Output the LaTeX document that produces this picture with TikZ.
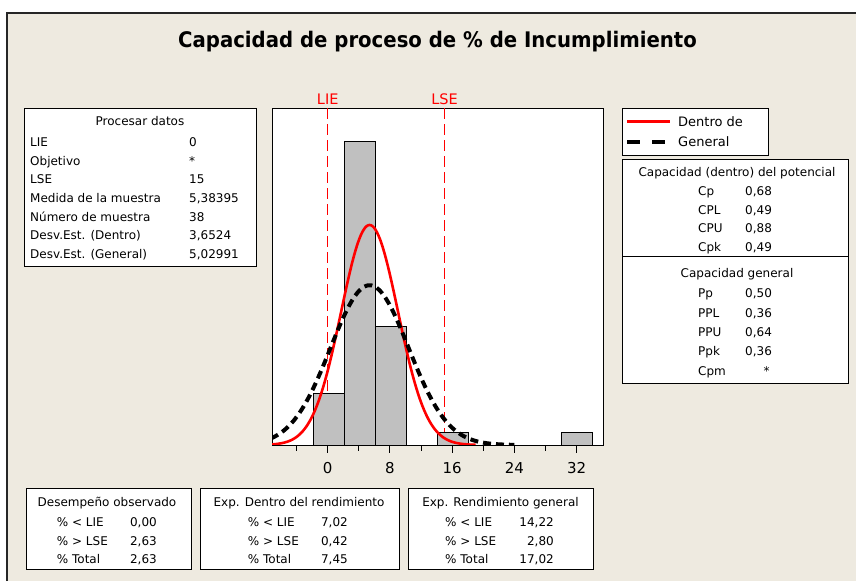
\documentclass[tikz,border=0pt]{standalone}
\usepackage{fontspec}
\setmainfont{DejaVu Sans}
\definecolor{bgbeige}{HTML}{EEEAE0}
\definecolor{bargray}{HTML}{C0C0C0}
\begin{document}
\begin{tikzpicture}[x=1pt,y=-1pt,
  txt/.style={inner sep=0pt, anchor=base west, font=\fontsize{12}{14}\selectfont},
  txtc/.style={inner sep=0pt, anchor=base, font=\fontsize{12}{14}\selectfont},
  txtr/.style={inner sep=0pt, anchor=base east, font=\fontsize{12}{14}\selectfont},
  legtxt/.style={inner sep=0pt, anchor=base west, font=\fontsize{13}{15}\selectfont},
  axtxt/.style={inner sep=0pt, anchor=base, font=\fontsize{15}{17}\selectfont},
  spectxt/.style={inner sep=0pt, anchor=base, text=red, font=\fontsize{14.5}{17}\selectfont},
  boxline/.style={draw=black, line width=1pt},
  bar/.style={draw=black, line width=0.9pt, fill=bargray},
  specline/.style={red, line width=1.1pt, dash pattern=on 11pt off 5pt},
  withincurve/.style={red, line width=2.6pt},
  overallcurve/.style={black, line width=4pt, dash pattern=on 8pt off 5pt},
]
\useasboundingbox (0,0) rectangle (856,581);
\fill[white] (0,0) rectangle (856,581);
\fill[bgbeige] (7,13) rectangle (856,581);
\draw[line width=1.6pt, black!85] (7,581) -- (7,13) -- (856,13);

% title
\node[inner sep=0pt, anchor=base, font=\bfseries\fontsize{19.5}{22}\selectfont] (title) at (437.5,47) {\scalebox{1.01}[1.1]{Capacidad de proceso de \% de Incumplimiento}};

% plot area
\draw[boxline, fill=white] (272,108) rectangle (603,445);
\draw[specline] (327.7,108) -- (327.7,445);
\draw[specline] (444.5,108) -- (444.5,445);
\node[spectxt] (lie) at (327.7,104.3) {LIE};
\node[spectxt] (lse) at (444.5,104.3) {LSE};

% bars
\draw[bar] (313.3,445) rectangle (344.4,393.3);
\draw[bar] (344.4,445) rectangle (375.6,141.7);
\draw[bar] (375.6,445) rectangle (406.5,326);
\draw[bar] (437.5,445) rectangle (468.3,432.3);
\draw[bar] (561,445) rectangle (592.3,432.3);

% curves
\begin{scope}
\clip (272,108) rectangle (603,445);
\draw[withincurve] plot[domain=-7.3:19, samples=140, smooth]
  ({327.7+7.78*\x},{445-2014/(3.6524*2.5066)*exp(-((\x-5.38395)*(\x-5.38395))/(2*3.6524*3.6524))});
\draw[overallcurve] plot[domain=-7.3:24, samples=160, smooth]
  ({327.7+7.78*\x},{445-2014/(5.02991*2.5066)*exp(-((\x-5.38395)*(\x-5.38395))/(2*5.02991*5.02991))});
\end{scope}
\draw[line width=1pt] (272,445) -- (603,445);

% axis ticks
\foreach \v in {-4,4,12,20,28}{
  \draw[line width=1pt] ({327.7+7.78*\v},445) -- ({327.7+7.78*\v},450.5);
}
\foreach \v in {0,8,16,24,32}{
  \draw[line width=1pt] ({327.7+7.78*\v},445) -- ({327.7+7.78*\v},453);
  \node[axtxt] (ax\v) at ({327.7+7.78*\v},473.3) {\v};
}

% left table
\draw[boxline, fill=white] (24,108) rectangle (256,266);
\node[txtc] (pd) at (140,125.9) {Procesar datos};
\node[txt] (l1) at (30,146.1) {LIE};             \node[txt] (v1) at (189,146.1) {0};
\node[txt] (l2) at (30,165) {Objetivo};          \node[txt] (v2) at (189,165) {*};
\node[txt] (l3) at (30,183.7) {LSE};             \node[txt] (v3) at (189,183.7) {15};
\node[txt] (l4) at (30,202.4) {Medida de la muestra}; \node[txt] (v4) at (189,202.4) {5,38395};
\node[txt] (l5) at (30,221.1) {Número de muestra};    \node[txt] (v5) at (189,221.1) {38};
\node[txt] (l6) at (30,239.8) {Desv.Est. (Dentro)};   \node[txt] (v6) at (189,239.8) {3,6524};
\node[txt] (l7) at (30,258.5) {Desv.Est. (General)};  \node[txt] (v7) at (189,258.5) {5,02991};

% legend
\draw[boxline, fill=white] (622,108) rectangle (768,155);
\draw[red, line width=2.2pt] (627,121.5) -- (670,121.5);
\node[legtxt] (leg1) at (678,126.2) {Dentro de};
\draw[black, line width=3.5pt, dash pattern=on 13pt off 12pt] (627,142) -- (667,142);
\node[legtxt] (leg2) at (678,146.7) {General};

% capability table
\draw[boxline, fill=white] (622,159) rectangle (848,383);
\draw[boxline] (622,256.5) -- (848,256.5);
\node[txtc] (cph) at (737,176.4) {Capacidad (dentro) del potencial};
\node[txt] (c1) at (698,195.1) {Cp};  \node[txt] (cv1) at (745,195.1) {0,68};
\node[txt] (c2) at (698,214.1) {CPL}; \node[txt] (cv2) at (745,214.1) {0,49};
\node[txt] (c3) at (698,232.9) {CPU}; \node[txt] (cv3) at (745,232.9) {0,88};
\node[txt] (c4) at (698,251.6) {Cpk}; \node[txt] (cv4) at (745,251.6) {0,49};
\node[txtc] (pph) at (737,277.1) {Capacidad general};
\node[txt] (p1) at (698,297.6) {Pp};  \node[txt] (pv1) at (745,297.6) {0,50};
\node[txt] (p2) at (698,317.4) {PPL}; \node[txt] (pv2) at (745,317.4) {0,36};
\node[txt] (p3) at (698,336.4) {PPU}; \node[txt] (pv3) at (745,336.4) {0,64};
\node[txt] (p4) at (698,355.1) {Ppk}; \node[txt] (pv4) at (745,355.1) {0,36};
\node[txt] (p5) at (698,375.1) {Cpm}; \node[txtc] (pv5) at (766.5,375.1) {*};

% bottom boxes
\draw[boxline, fill=white] (26,488) rectangle (191,569);
\node[txtc] (b1h) at (107,506.1) {Desempeño observado};
\node[txt] (b1l1) at (56.7,526.4) {\%  <  LIE};   \node[txtr] (b1v1) at (157,526.4) {0,00};
\node[txt] (b1l2) at (56.7,545.4) {\%  >  LSE};   \node[txtr] (b1v2) at (157,545.4) {2,63};
\node[txt] (b1l3) at (56.7,563.8) {\%  Total};    \node[txtr] (b1v3) at (157,563.8) {2,63};

\draw[boxline, fill=white] (200,488) rectangle (399,569);
\node[txtc] (b2h) at (299,506.1) {Exp. Dentro del rendimiento};
\node[txt] (b2l1) at (247.7,526.4) {\%  <  LIE};  \node[txtr] (b2v1) at (348,526.4) {7,02};
\node[txt] (b2l2) at (247.7,545.4) {\%  >  LSE};  \node[txtr] (b2v2) at (348,545.4) {0,42};
\node[txt] (b2l3) at (247.7,563.8) {\%  Total};   \node[txtr] (b2v3) at (348,563.8) {7,45};

\draw[boxline, fill=white] (408,488) rectangle (593,569);
\node[txtc] (b3h) at (500.5,506.1) {Exp. Rendimiento general};
\node[txt] (b3l1) at (445,526.4) {\%  <  LIE};  \node[txtr] (b3v1) at (554,526.4) {14,22};
\node[txt] (b3l2) at (445,545.4) {\%  >  LSE};  \node[txtr] (b3v2) at (554,545.4) {2,80};
\node[txt] (b3l3) at (445,563.8) {\%  Total};   \node[txtr] (b3v3) at (554,563.8) {17,02};
\end{tikzpicture}
\end{document}
